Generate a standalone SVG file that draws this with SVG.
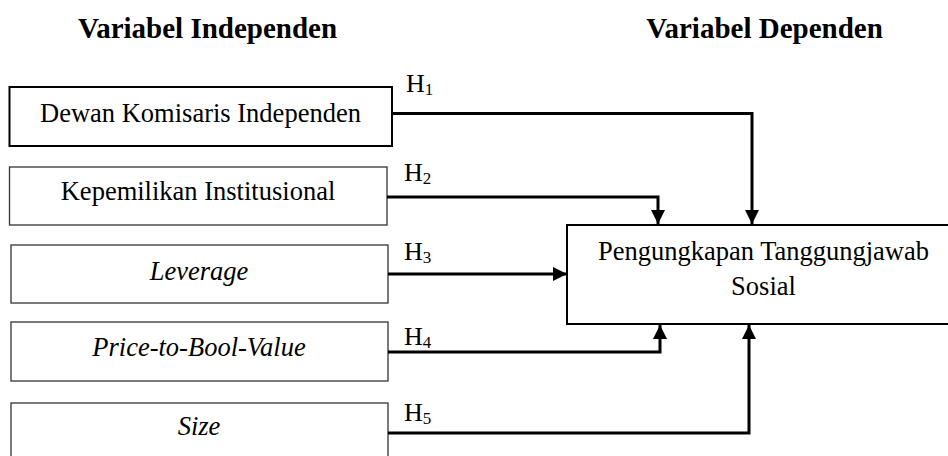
<svg xmlns="http://www.w3.org/2000/svg" width="948" height="456" viewBox="0 0 948 456">
<defs>
<marker id="arr" markerWidth="14" markerHeight="14" refX="14" refY="7" orient="auto" markerUnits="userSpaceOnUse">
<path d="M0,0 L14,7 L0,14 Z" fill="#000"/>
</marker>
<style>
text{font-family:'Liberation Serif',Tinos,'DejaVu Serif',serif}
.t{font-size:26.5px;fill:#000;text-anchor:middle}
.ti{font-style:italic}
.h{font-weight:bold;font-size:29px;fill:#000;text-anchor:middle}
.lab{font-size:26px;fill:#000}
.sub{font-size:17px}
.box{fill:#fff;stroke:#333;stroke-width:1.3}
.boxb{fill:#fff;stroke:#000;stroke-width:2}
.c{fill:none;stroke:#000;stroke-width:3;marker-end:url(#arr)}
</style>
</defs>
<rect width="948" height="456" fill="#fff"/>
<text class="h" x="207.5" y="38">Variabel Independen</text>
<text class="h" x="764.5" y="38">Variabel Dependen</text>

<g id="n1"><rect class="boxb" x="9.5" y="87" width="382.5" height="59"/><text class="t" x="200.5" y="122">Dewan Komisaris Independen</text></g>
<g id="n2"><rect class="box" x="9.5" y="167" width="377.5" height="58"/><text class="t" x="198" y="200">Kepemilikan Institusional</text></g>
<g id="n3"><rect class="box" x="11" y="245" width="377" height="58"/><text class="t ti" x="199" y="280">Leverage</text></g>
<g id="n4"><rect class="box" x="11" y="322" width="377" height="59"/><text class="t ti" x="199" y="356">Price-to-Bool-Value</text></g>
<g id="n5"><rect class="box" x="11" y="403" width="377" height="60"/><text class="t ti" x="199" y="435">Size</text></g>
<g id="target"><rect class="boxb" x="567" y="225" width="400" height="99"/><text class="t" x="763.5" y="260">Pengungkapan Tanggungjawab</text><text class="t" x="763.5" y="295">Sosial</text></g>

<g id="connectors">
<path class="c" d="M392,113.5 H752 V224"/>
<path class="c" d="M387,197 H658 V224"/>
<path class="c" d="M388,274 H567"/>
<path class="c" d="M388,352 H660 V325"/>
<path class="c" d="M388,433 H749 V325"/>
</g>
<g id="labels">
<text class="lab" x="406" y="92">H<tspan class="sub" dy="3">1</tspan></text>
<text class="lab" x="404" y="181">H<tspan class="sub" dy="3">2</tspan></text>
<text class="lab" x="404" y="260">H<tspan class="sub" dy="3">3</tspan></text>
<text class="lab" x="404" y="345">H<tspan class="sub" dy="3">4</tspan></text>
<text class="lab" x="404" y="421">H<tspan class="sub" dy="3">5</tspan></text>
</g>
</svg>
